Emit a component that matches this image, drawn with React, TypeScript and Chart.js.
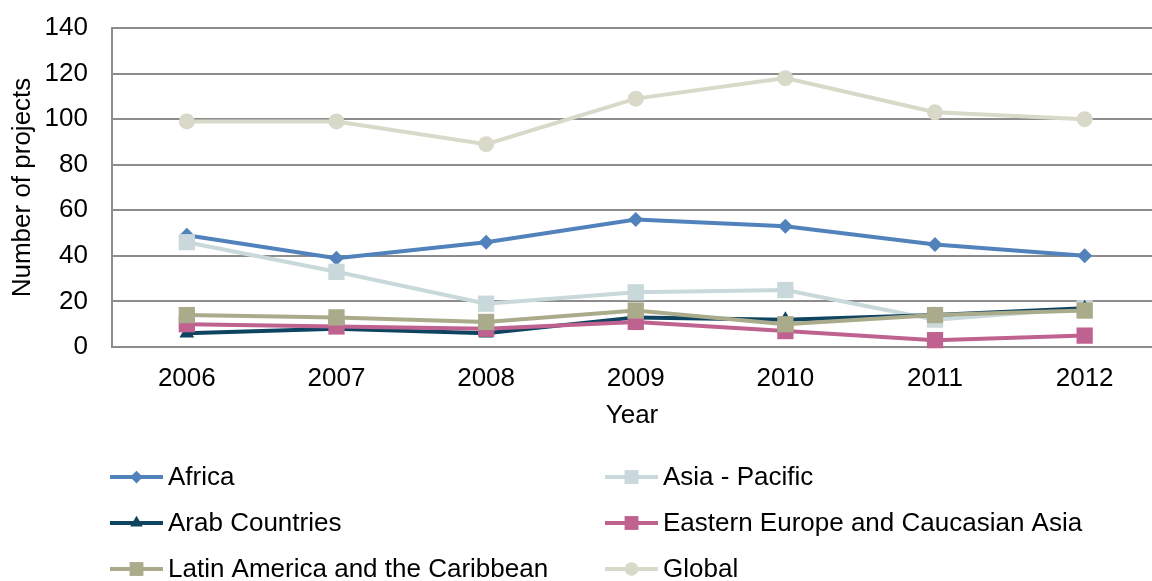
import React, { useEffect, useRef } from "react";
import { Chart, registerables } from "chart.js";
import { drawPoint } from "chart.js/helpers";

Chart.register(...registerables);

const years = [2006, 2007, 2008, 2009, 2010, 2011, 2012];
const seriesNames = [
  "Africa",
  "Asia - Pacific",
  "Arab Countries",
  "Eastern Europe and Caucasian Asia",
  "Latin America and the Caribbean",
  "Global",
];
const africa = [49, 39, 46, 56, 53, 45, 40];
const asiaPacific = [46, 33, 19, 24, 25, 12, 17];
const arab = [6, 8, 6, 13, 12, 14, 17];
const easternEurope = [10, 9, 8, 11, 7, 3, 5];
const latinAmerica = [14, 13, 11, 16, 10, 14, 16];
const global = [99, 99, 89, 109, 118, 103, 100];
const yTicks = [0, 20, 40, 60, 80, 100, 120, 140];

const seriesValues = [africa, asiaPacific, arab, easternEurope, latinAmerica, global];
const colors = ["#5282bb", "#c9d8da", "#0f4461", "#c0628f", "#aaab8b", "#d9d9c9"];
const shapes = ["rectRot", "rect", "triangle", "rect", "rect", "circle"];
const radii = [7.5, 11.5, 8.5, 11.5, 11.5, 8];

const FONT = "'Liberation Sans', Arial, sans-serif";
const FS = 26;

export default function App() {
  const ref = useRef<HTMLCanvasElement>(null);
  useEffect(() => {
    document.body.style.margin = "0";
    const legendPlugin = {
      id: "customLegend",
      afterDraw(chart: any) {
        const ctx = chart.ctx;
        ctx.save();
        chart.data.datasets.forEach((ds: any, i: number) => {
          const col = i % 2;
          const row = Math.floor(i / 2);
          const x0 = col === 0 ? 110 : 605;
          const y = 477 + row * 46;
          ctx.strokeStyle = ds.borderColor;
          ctx.lineWidth = 4;
          ctx.beginPath();
          ctx.moveTo(x0, y);
          ctx.lineTo(x0 + 53, y);
          ctx.stroke();
          ctx.fillStyle = ds.backgroundColor;
          ctx.strokeStyle = ds.borderColor;
          ctx.lineWidth = 1;
          drawPoint(ctx, { pointStyle: ds.pointStyle, radius: ds.pointRadius * 0.85, rotation: 0, borderWidth: 0 }, x0 + 26.5, y);
          ctx.fillStyle = "#000";
          ctx.font = `${FS}px ${FONT}`;
          ctx.textBaseline = "middle";
          ctx.textAlign = "left";
          ctx.fillText(ds.label, x0 + 58, y + 1);
        });
        ctx.restore();
      },
    };
    const chart = new Chart(ref.current!, {
      type: "line",
      data: {
        datasets: seriesNames.map((name, i) => ({
          label: name,
          data: years.map((yr, j) => ({ x: yr, y: seriesValues[i][j] })),
          borderColor: colors[i],
          backgroundColor: colors[i],
          borderWidth: 4,
          pointStyle: shapes[i],
          pointRadius: radii[i],
          pointBorderWidth: 0,
          order: 5 - i,
          tension: 0,
          clip: false,
        })),
      },
      plugins: [legendPlugin],
      options: {
        animation: false,
        responsive: false,
        maintainAspectRatio: false,
        layout: { autoPadding: false, padding: { top: 28, right: 0, bottom: 149, left: 0 } },
        plugins: { legend: { display: false }, tooltip: { enabled: false } },
        scales: {
          x: {
            type: "linear",
            min: 2005.5,
            max: 2012.45,
            afterBuildTicks: (axis: any) => {
              axis.ticks = years.map((v) => ({ value: v }));
            },
            afterFit: (axis: any) => {
              axis.height = 85;
              axis.paddingLeft = 0;
              axis.paddingRight = 0;
            },
            grid: { display: false, drawTicks: false },
            border: { display: true, color: "#8c8c8c", width: 2 },
            ticks: { color: "#000", font: { family: FONT, size: FS }, padding: 16, callback: (v: any) => String(v) },
            title: { display: true, text: "Year", color: "#000", font: { family: FONT, size: FS }, padding: { top: 0, bottom: 1 } },
          },
          y: {
            min: 0,
            max: 140,
            afterBuildTicks: (axis: any) => {
              axis.ticks = yTicks.map((v) => ({ value: v }));
            },
            afterFit: (axis: any) => {
              axis.width = 112;
              axis.paddingTop = 0;
              axis.paddingBottom = 0;
            },
            grid: { color: "#8c8c8c", lineWidth: 2, drawTicks: false },
            border: { display: true, color: "#8c8c8c", width: 2 },
            ticks: { color: "#000", font: { family: FONT, size: FS }, padding: 24 },
            title: { display: true, text: "Number of projects", color: "#000", font: { family: FONT, size: FS }, padding: { top: 7, bottom: 0 } },
          },
        },
      },
    });
    return () => chart.destroy();
  }, []);
  return <canvas ref={ref} width={1152} height={581} style={{ display: "block" }} />;
}
